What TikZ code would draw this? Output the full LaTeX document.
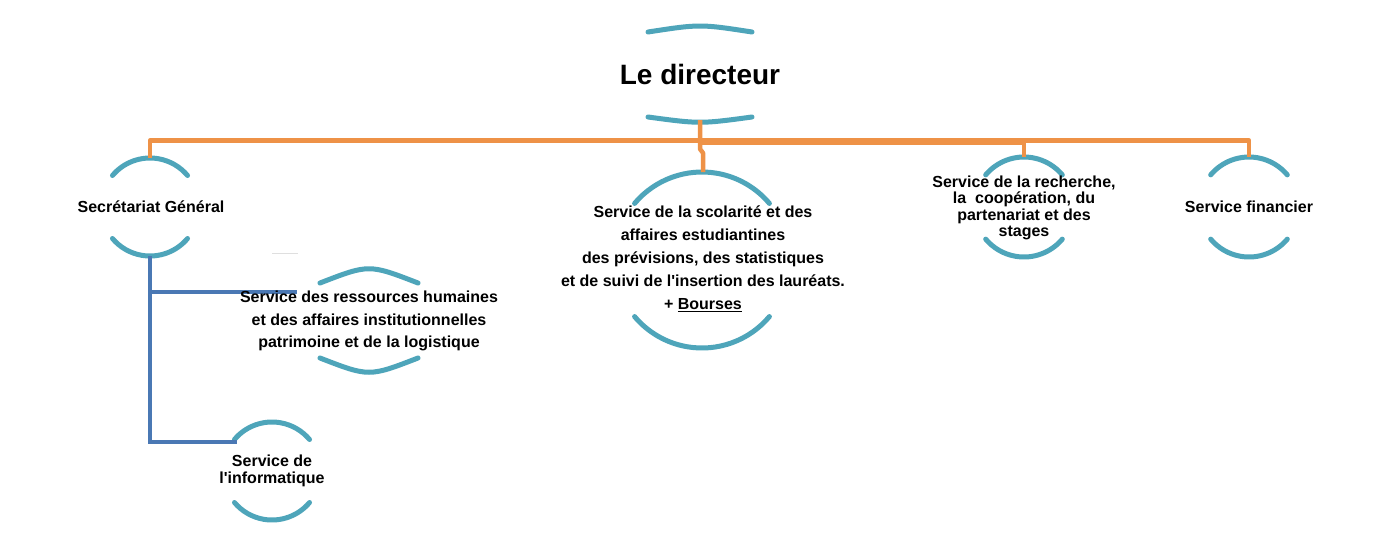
\documentclass[tikz,border=0pt]{standalone}
\usepackage{fontspec}
\setmainfont{Liberation Sans}
\definecolor{arcteal}{HTML}{4EA5BA}
\definecolor{linkorange}{HTML}{EE9247}
\definecolor{linkblue}{HTML}{4A78B4}
\newcommand\ringarcs[3]{%
  \draw[arcline, shift={(#1,#2)}] (220:#3) arc[start angle=220,end angle=320,radius=#3];
  \draw[arcline, shift={(#1,#2)}] (40:#3) arc[start angle=40,end angle=140,radius=#3];}
\begin{document}
\begin{tikzpicture}[x=1pt,y=-1pt,
  arcline/.style={draw=arcteal, line width=5pt, line cap=round},
  orglink/.style={draw=linkorange, line width=4.5pt, line join=round},
  bluelink/.style={draw=linkblue, line width=4.5pt, line join=miter},
  lbl/.style={font=\bfseries\fontsize{16}{17}\selectfont, align=center, inner sep=0pt, text=black}]
\useasboundingbox[fill=white] (0,0) rectangle (1398,549);

% arcs
\draw[arcline] (648,32) .. controls (700,24) .. (752,32);
\draw[arcline] (648,117) .. controls (700,124) .. (752,117);
\draw[arcline] (320,283) .. controls (369,264) .. (418,283);
\draw[arcline] (320,358) .. controls (369,377) .. (418,358);
\ringarcs{150}{207}{49}
\ringarcs{702}{260}{88}
\ringarcs{1024}{207}{50}
\ringarcs{1249}{207}{50}
\ringarcs{272}{471}{49}

% anchor coordinates
\coordinate (dirB) at (700,120);
\coordinate (sgT) at (150,158);
\coordinate (sgB) at (150,256);
\coordinate (scoT) at (703,172);
\coordinate (reT) at (1024,157);
\coordinate (fiT) at (1249,157);
\coordinate (rhL) at (297,292);
\coordinate (infL) at (237,442);

% orange links
\draw[orglink] (sgT) -- (150,140.5) -- (1249,140.5) -- (fiT);
\draw[orglink] (700,142.5) -- (1024,142.5) -- (reT);
\draw[orglink] (dirB) -- (700,149) -- (703,153) -- (scoT);

% blue links
\draw[bluelink] (sgB) -- (150,442) -- (infL);
\draw[bluelink] (150,292) -- (rhL);
\draw[gray!25, line width=1pt] (272,253) -- (298,253);

% texts
\node[lbl, font=\bfseries\fontsize{28}{30}\selectfont] (dir) at (700,74) {Le directeur};
\node[lbl] (sg) at (151,207) {Secrétariat Général};
\node[lbl, font=\bfseries\fontsize{16}{23}\selectfont] (sco) at (703,259) {Service de la scolarité et des\\affaires estudiantines\\des prévisions, des statistiques\\et de suivi de l\textquotesingle insertion des lauréats.\\+ \underline{Bourses}};
\node[lbl, font=\bfseries\fontsize{16}{16.5}\selectfont] (re) at (1024,208) {Service de la recherche,\\la~~coopération, du\\partenariat et des\\stages};
\node[lbl] (fi) at (1249,207) {Service financier};
\node[lbl, font=\bfseries\fontsize{16}{22.5}\selectfont] (rh) at (369,321) {Service des ressources humaines\\et des affaires institutionnelles\\patrimoine et de la logistique};
\node[lbl] (inf) at (272,471) {Service de\\l\textquotesingle informatique};
\end{tikzpicture}
\end{document}
